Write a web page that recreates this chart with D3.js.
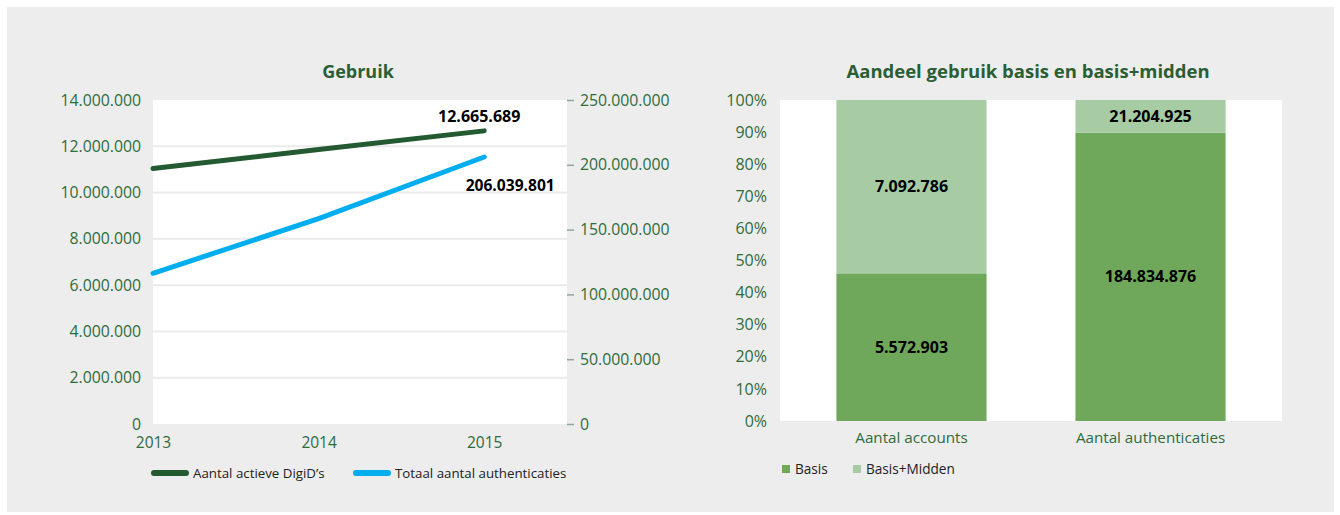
<!DOCTYPE html>
<html>
<head>
<meta charset="utf-8">
<script src="https://cdn.jsdelivr.net/npm/d3@7"></script>
<style>
  body { margin: 0; background: #fff; }
  svg { display: block; font-family: "Open Sans", sans-serif; }
</style>
</head>
<body>
<svg id="chart" width="1340" height="515"></svg>
<script>
// --- data: left chart (Gebruik)
const years = [2013, 2014, 2015];
const actieveDigiDs = [11040000, 11860000, 12665689];
const authenticaties = [116300000, 158400000, 206039801];
const leftTicks = [0, 2000000, 4000000, 6000000, 8000000, 10000000, 12000000, 14000000];
const rightTicks = [0, 50000000, 100000000, 150000000, 200000000, 250000000];

// --- data: right chart (Aandeel gebruik)
const categories = ["Aantal accounts", "Aantal authenticaties"];
const basisPct = [46, 89.8];
const basisLabels = ["5.572.903", "184.834.876"];
const middenLabels = ["7.092.786", "21.204.925"];
const pctTicks = [0, 10, 20, 30, 40, 50, 60, 70, 80, 90, 100];

const nl = d3.formatLocale({ decimal: ",", thousands: ".", grouping: [3], currency: ["€", ""] });
const fmt = nl.format(",d");

const green = "#235a32", blue = "#00aeef";
const axisGreen = "#2f6b3b", titleGreen = "#2b5e34";
const basisCol = "#70a85b", middenCol = "#a7cba2";

const svg = d3.select("#chart");
svg.append("rect").attr("x", 7).attr("y", 7).attr("width", 1327).attr("height", 505).attr("fill", "#ededed");

// ================= left chart =================
const L = { left: 153, right: 567, top: 100, bottom: 424 };
const x = d3.scaleLinear().domain([2013, 2015.5]).range([L.left, L.right]);
const yL = d3.scaleLinear().domain([0, 14000000]).range([L.bottom, L.top]);
const yR = d3.scaleLinear().domain([0, 250000000]).range([L.bottom, L.top]);

svg.append("rect").attr("x", L.left).attr("y", L.top)
  .attr("width", L.right - L.left).attr("height", L.bottom - L.top).attr("fill", "#fff");

svg.append("g").selectAll("line")
  .data(leftTicks.filter(d => d > 0 && d < 14000000))
  .join("line")
  .attr("x1", L.left).attr("x2", L.right)
  .attr("y1", d => yL(d)).attr("y2", d => yL(d))
  .attr("stroke", "#ebebeb").attr("stroke-width", 2);

svg.append("text").attr("x", 358).attr("y", 78)
  .attr("text-anchor", "middle").attr("font-size", 18).attr("font-weight", 700)
  .attr("fill", titleGreen).text("Gebruik");

const axL = svg.append("g").attr("transform", `translate(${L.left},0)`)
  .call(d3.axisLeft(yL).tickValues(leftTicks).tickFormat(fmt).tickSize(0).tickPadding(12));
axL.select(".domain").remove();
axL.selectAll("text").attr("font-size", 15.8).attr("fill", axisGreen).attr("font-family", "Open Sans");

const axR = svg.append("g").attr("transform", `translate(${L.right},0)`)
  .call(d3.axisRight(yR).tickValues(rightTicks).tickFormat(fmt).tickSize(7).tickPadding(6));
axR.select(".domain").remove();
axR.selectAll("line").attr("stroke", "#8fa894").attr("stroke-width", 1.5);
axR.selectAll("text").attr("font-size", 15.8).attr("fill", axisGreen).attr("font-family", "Open Sans");

const axX = svg.append("g").attr("transform", `translate(0,${L.bottom})`)
  .call(d3.axisBottom(x).tickValues(years).tickFormat(d3.format("d")).tickSize(0).tickPadding(13));
axX.select(".domain").remove();
axX.selectAll("text").attr("font-size", 15.5).attr("fill", axisGreen).attr("font-family", "Open Sans");

const lineL = d3.line().x((d, i) => x(years[i])).y(d => yL(d));
const lineR = d3.line().x((d, i) => x(years[i])).y(d => yR(d));

svg.append("path").datum(authenticaties).attr("d", lineR)
  .attr("fill", "none").attr("stroke", blue).attr("stroke-width", 5).attr("stroke-linecap", "round");
svg.append("path").datum(actieveDigiDs).attr("d", lineL)
  .attr("fill", "none").attr("stroke", green).attr("stroke-width", 5).attr("stroke-linecap", "round");

svg.append("text").attr("x", x(2015) - 5).attr("y", yL(actieveDigiDs[2]) - 9)
  .attr("text-anchor", "middle").attr("font-size", 16).attr("font-weight", 700)
  .text(fmt(actieveDigiDs[2]));
svg.append("text").attr("x", x(2015) + 26).attr("y", yR(authenticaties[2]) + 34)
  .attr("text-anchor", "middle").attr("font-size", 15.6).attr("font-weight", 700)
  .text(fmt(authenticaties[2]));

// legend
const legL = [
  { label: "Aantal actieve DigiD\u2019s", color: green, x: 152 },
  { label: "Totaal aantal authenticaties", color: blue, x: 354 }
];
const lg = svg.append("g").selectAll("g").data(legL).join("g")
  .attr("transform", d => `translate(${d.x},473)`);
lg.append("line").attr("x1", 2).attr("x2", 34).attr("stroke", d => d.color)
  .attr("stroke-width", 6).attr("stroke-linecap", "round");
lg.append("text").attr("x", 41).attr("y", 5).attr("font-size", 13.3).attr("fill", "#222")
  .text(d => d.label);

// ================= right chart =================
const R = { left: 780, right: 1282, top: 100, bottom: 421 };
const xb = d3.scaleBand().domain(categories).range([R.left, R.right])
  .paddingInner(0.372).paddingOuter(0.236);
const yp = d3.scaleLinear().domain([0, 100]).range([R.bottom, R.top]);

svg.append("rect").attr("x", R.left).attr("y", R.top)
  .attr("width", R.right - R.left).attr("height", R.bottom - R.top).attr("fill", "#fff");

svg.append("text").attr("x", 1028).attr("y", 78)
  .attr("text-anchor", "middle").attr("font-size", 18.5).attr("font-weight", 700)
  .attr("fill", titleGreen).text("Aandeel gebruik basis en basis+midden");

const axP = svg.append("g").attr("transform", `translate(${R.left},0)`)
  .call(d3.axisLeft(yp).tickValues(pctTicks).tickFormat(d => d + "%").tickSize(0).tickPadding(13));
axP.select(".domain").remove();
axP.selectAll("text").attr("font-size", 16).attr("fill", axisGreen).attr("font-family", "Open Sans");

const axC = svg.append("g").attr("transform", `translate(0,${R.bottom})`)
  .call(d3.axisBottom(xb).tickSize(0).tickPadding(11));
axC.select(".domain").remove();
axC.selectAll("text").attr("font-size", 15.2).attr("fill", axisGreen).attr("font-family", "Open Sans");

const stacks = categories.map((c, i) => ({
  cat: c, basis: basisPct[i], bLabel: basisLabels[i], mLabel: middenLabels[i]
}));
const bars = svg.append("g").selectAll("g").data(stacks).join("g");
bars.append("rect").attr("x", d => xb(d.cat)).attr("width", xb.bandwidth())
  .attr("y", d => yp(d.basis)).attr("height", d => yp(0) - yp(d.basis)).attr("fill", basisCol);
bars.append("rect").attr("x", d => xb(d.cat)).attr("width", xb.bandwidth())
  .attr("y", yp(100)).attr("height", d => yp(d.basis) - yp(100)).attr("fill", middenCol);
bars.append("text").attr("x", d => xb(d.cat) + xb.bandwidth() / 2)
  .attr("y", d => yp(d.basis / 2)).attr("dy", "0.35em")
  .attr("text-anchor", "middle").attr("font-size", 16).attr("font-weight", 700)
  .text(d => d.bLabel);
bars.append("text").attr("x", d => xb(d.cat) + xb.bandwidth() / 2)
  .attr("y", d => yp((d.basis + 100) / 2)).attr("dy", "0.35em")
  .attr("text-anchor", "middle").attr("font-size", 16).attr("font-weight", 700)
  .text(d => d.mLabel);

const legR = [
  { label: "Basis", color: basisCol, x: 782 },
  { label: "Basis+Midden", color: middenCol, x: 853 }
];
const lr = svg.append("g").selectAll("g").data(legR).join("g")
  .attr("transform", d => `translate(${d.x},465)`);
lr.append("rect").attr("width", 8).attr("height", 8).attr("fill", d => d.color);
lr.append("text").attr("x", 13).attr("y", 9).attr("font-size", 13.6).attr("fill", "#222")
  .text(d => d.label);
</script>
</body>
</html>
